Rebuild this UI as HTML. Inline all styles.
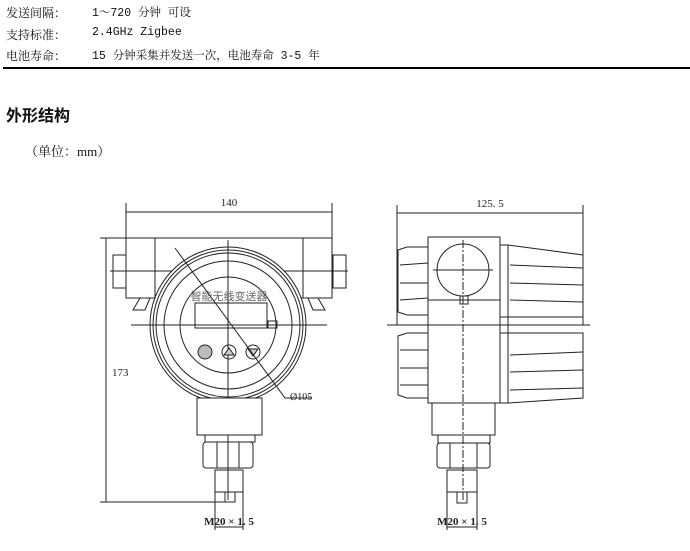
<!DOCTYPE html>
<html><head><meta charset="utf-8"><style>
body{margin:0;width:690px;height:551px;background:#fff;overflow:hidden;position:relative;font-family:"Liberation Serif","Noto Serif CJK SC",serif;color:#111}
.t{position:absolute;font-size:12px;white-space:nowrap}
.v{font-family:"Liberation Mono","Noto Serif CJK SC",monospace;font-size:11.5px}
</style></head><body>
<div class="t" style="left:6px;top:4px">发送间隔：</div><div class="t v" style="left:92px;top:4px">1～720 分钟 可设</div>
<div class="t" style="left:6px;top:26px">支持标准：</div><div class="t v" style="left:92px;top:26px">2.4GHz Zigbee</div>
<div class="t" style="left:6px;top:47px">电池寿命：</div><div class="t v" style="left:92px;top:47px">15 分钟采集并发送一次，电池寿命 3-5 年</div>
<div style="position:absolute;left:3px;top:67px;width:687px;height:1.5px;background:#000"></div>
<div class="t" style="left:6px;top:102px;font-size:16px;font-weight:bold;font-family:'Liberation Sans','Noto Sans CJK SC',sans-serif">外形结构</div>
<div class="t" style="left:25px;top:141px;font-size:13px">（单位：mm）</div>
<svg width="690" height="551" style="position:absolute;left:0;top:0" fill="none" stroke="#222" stroke-width="1" font-family="Liberation Serif,serif">
<g>
<line x1="126" y1="203" x2="126" y2="298"/><line x1="332" y1="203" x2="332" y2="298"/>
<line x1="126" y1="212" x2="332" y2="212"/>
<text x="229" y="206" font-size="11" fill="#222" stroke="none" text-anchor="middle">140</text>
<path d="M155 238 H303 V298 H155 Z"/>
<path d="M126 238 H155 V298 H126 Z"/><path d="M303 238 H332 V298 H303 Z"/>
<rect x="113" y="255" width="13" height="33"/><rect x="333" y="255" width="13" height="33"/>
<path d="M140 298 L133 310 L145 310 L150 298"/><path d="M308 298 L313 310 L325 310 L318 298"/>
<line x1="110" y1="271" x2="348" y2="271"/>
<circle cx="228" cy="325" r="78" fill="#fff"/><circle cx="228" cy="325" r="75"/><circle cx="228" cy="325" r="72"/><circle cx="228" cy="325" r="64"/><circle cx="228" cy="325" r="48"/>
<line x1="131" y1="325" x2="327" y2="325"/>
<line x1="228" y1="240" x2="228" y2="500"/>
<rect x="195" y="303" width="72" height="25"/><rect x="268" y="321" width="9" height="7"/>
<text x="229" y="300" font-size="11" fill="#666" stroke="none" text-anchor="middle" font-family="Noto Sans CJK SC,sans-serif">智能无线变送器</text>
<circle cx="205" cy="352" r="7" fill="#bbb"/><circle cx="229" cy="352" r="7"/><circle cx="253" cy="352" r="7"/>
<path d="M224 355 L229 348 L234 355 Z" fill="#ccc"/><path d="M248 349 L258 349 L253 356 Z" fill="#ccc"/>
<path d="M175 248 L285 398 H312"/>
<text x="290" y="400" font-size="10" fill="#222" stroke="none">Ø105</text>
<rect x="197" y="398" width="65" height="37" fill="#fff"/>
<rect x="205" y="435" width="50" height="7"/>
<rect x="203" y="442" width="50" height="26" rx="3"/><line x1="217" y1="442" x2="217" y2="468"/><line x1="239" y1="442" x2="239" y2="468"/>
<rect x="215" y="470" width="28" height="22"/><rect x="225" y="492" width="10" height="10"/>
<line x1="106" y1="238" x2="106" y2="502"/><line x1="100" y1="238" x2="160" y2="238"/><line x1="100" y1="502" x2="225" y2="502"/>
<text x="112" y="376" font-size="11" fill="#222" stroke="none">173</text>
<line x1="215" y1="492" x2="215" y2="530"/><line x1="243" y1="492" x2="243" y2="530"/><line x1="215" y1="527" x2="243" y2="527"/>
<text x="229" y="525" font-size="11" fill="#222" stroke="none" text-anchor="middle" font-weight="bold">M20 × 1. 5</text>
</g>
<g>
<line x1="397" y1="205" x2="397" y2="325"/><line x1="583" y1="205" x2="583" y2="325"/>
<line x1="397" y1="213" x2="583" y2="213"/>
<text x="490" y="207" font-size="11" fill="#222" stroke="none" text-anchor="middle">125. 5</text>
<path d="M398 250 L407 247 H428 V315 H407 L398 312 Z"/><path d="M398 336 L407 333 H428 V398 H407 L398 395 Z"/>
<line x1="400" y1="265" x2="428" y2="263"/><line x1="400" y1="283" x2="428" y2="283"/><line x1="400" y1="300" x2="428" y2="298"/>
<line x1="400" y1="350" x2="428" y2="350"/><line x1="400" y1="368" x2="428" y2="368"/><line x1="400" y1="385" x2="428" y2="385"/>
<path d="M500 245 H508 L583 255 V317 H508 H500 Z"/><path d="M500 333 H583 V398 L508 403 H500 Z"/>
<line x1="508" y1="245" x2="508" y2="403"/>
<line x1="510" y1="265" x2="583" y2="268"/><line x1="510" y1="283" x2="583" y2="285"/><line x1="510" y1="300" x2="583" y2="302"/>
<line x1="510" y1="355" x2="583" y2="352"/><line x1="510" y1="372" x2="583" y2="370"/><line x1="510" y1="390" x2="583" y2="388"/>
<rect x="428" y="237" width="72" height="166" fill="#fff"/>
<circle cx="463" cy="270" r="26"/><line x1="433" y1="270" x2="493" y2="270"/><line x1="428" y1="300" x2="500" y2="300"/><rect x="460" y="296" width="8" height="8"/>
<line x1="387" y1="325" x2="590" y2="325"/>
<line x1="463" y1="240" x2="463" y2="500" stroke-dasharray="8 2 2 2"/>
<rect x="432" y="403" width="63" height="32"/><rect x="438" y="435" width="52" height="8"/>
<rect x="437" y="443" width="53" height="25" rx="3"/><line x1="450" y1="443" x2="450" y2="468"/><line x1="477" y1="443" x2="477" y2="468"/>
<rect x="447" y="470" width="30" height="22"/><rect x="457" y="492" width="10" height="11"/>
<line x1="447" y1="492" x2="447" y2="530"/><line x1="477" y1="492" x2="477" y2="530"/><line x1="447" y1="527" x2="477" y2="527"/>
<text x="462" y="525" font-size="11" fill="#222" stroke="none" text-anchor="middle" font-weight="bold">M20 × 1. 5</text>
</g>
</svg>
</body></html>
